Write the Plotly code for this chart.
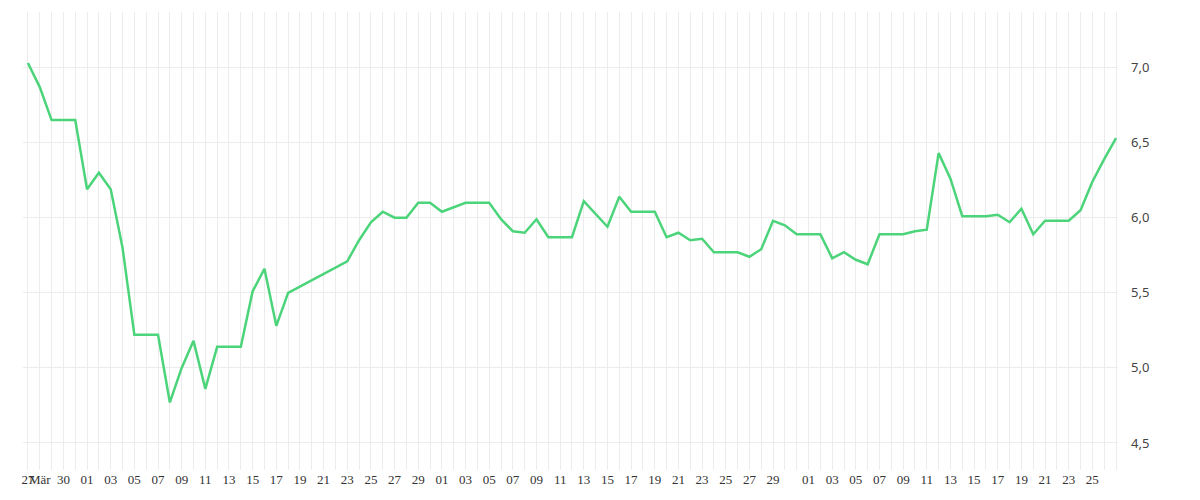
import pandas as pd
import plotly.graph_objects as go

dates = [
    "2024-03-27", "2024-03-28", "2024-03-29", "2024-03-31", "2024-04-01", "2024-04-02",
    "2024-04-03", "2024-04-04", "2024-04-05", "2024-04-07", "2024-04-08", "2024-04-09",
    "2024-04-10", "2024-04-11", "2024-04-12", "2024-04-14", "2024-04-15", "2024-04-16",
    "2024-04-17", "2024-04-18", "2024-04-23", "2024-04-24", "2024-04-25", "2024-04-26",
    "2024-04-27", "2024-04-28", "2024-04-29", "2024-04-30", "2024-05-01", "2024-05-03",
    "2024-05-05", "2024-05-06", "2024-05-07", "2024-05-08", "2024-05-09", "2024-05-10",
    "2024-05-12", "2024-05-13", "2024-05-15", "2024-05-16", "2024-05-17", "2024-05-19",
    "2024-05-20", "2024-05-21", "2024-05-22", "2024-05-23", "2024-05-24", "2024-05-26",
    "2024-05-27", "2024-05-28", "2024-05-29", "2024-05-30", "2024-05-31", "2024-06-02",
    "2024-06-03", "2024-06-04", "2024-06-05", "2024-06-06", "2024-06-07", "2024-06-09",
    "2024-06-10", "2024-06-11", "2024-06-12", "2024-06-13", "2024-06-14", "2024-06-16",
    "2024-06-17", "2024-06-18", "2024-06-19", "2024-06-20", "2024-06-21", "2024-06-23",
    "2024-06-24", "2024-06-25", "2024-06-26", "2024-06-27",
]
values = [
    7.03, 6.87, 6.65, 6.65, 6.19, 6.30,
    6.19, 5.80, 5.22, 5.22, 4.77, 5.00,
    5.18, 4.86, 5.14, 5.14, 5.51, 5.66,
    5.28, 5.50, 5.71, 5.85, 5.97, 6.04,
    6.00, 6.00, 6.10, 6.10, 6.04, 6.10,
    6.10, 5.99, 5.91, 5.90, 5.99, 5.87,
    5.87, 6.11, 5.94, 6.14, 6.04, 6.04,
    5.87, 5.90, 5.85, 5.86, 5.77, 5.77,
    5.74, 5.79, 5.98, 5.95, 5.89, 5.89,
    5.73, 5.77, 5.72, 5.69, 5.89, 5.89,
    5.91, 5.92, 6.43, 6.26, 6.01, 6.01,
    6.02, 5.97, 6.06, 5.89, 5.98, 5.98,
    6.05, 6.24, 6.39, 6.53,
]
y_ticks = [4.5, 5.0, 5.5, 6.0, 6.5, 7.0]

days = pd.date_range("2024-03-27", "2024-06-27", freq="D")
labels = []
for d in days:
    if d.month == 3:
        labels.append({27: "27", 28: "Mär", 30: "30"}.get(d.day, ""))
    elif d.day % 2 == 1 and d.day != 31:
        labels.append(f"{d.day:02d}")
    else:
        labels.append("")
labels[-1] = ""

fig = go.Figure(
    go.Scatter(
        x=pd.to_datetime(dates), y=values, mode="lines",
        line=dict(color="#4cd47a", width=2.5), hoverinfo="x+y",
    )
)
fig.update_layout(
    width=1200, height=500, plot_bgcolor="white", paper_bgcolor="white",
    margin=dict(l=15, r=90, t=4, b=38, autoexpand=False), showlegend=False,
    separators=",.",
)
fig.update_xaxes(
    range=[pd.Timestamp("2024-03-26 14:00"), pd.Timestamp("2024-06-27 04:00")],
    tickvals=days, ticktext=labels, tickangle=0, showgrid=True, automargin=False,
    gridcolor="#ececec", gridwidth=1, zeroline=False, showline=False, ticks="",
    tickfont=dict(family="Liberation Serif", size=13, color="#333"),
)
fig.update_yaxes(
    side="right", range=[4.32, 7.37], tickvals=y_ticks, tickformat=".1f",
    showgrid=True, gridcolor="#ececec", zeroline=False, showline=False, ticks="",
    ticklabelstandoff=12,
    tickfont=dict(family="Noto Sans", size=13, color="#444"),
)
fig.write_html("out.html")
